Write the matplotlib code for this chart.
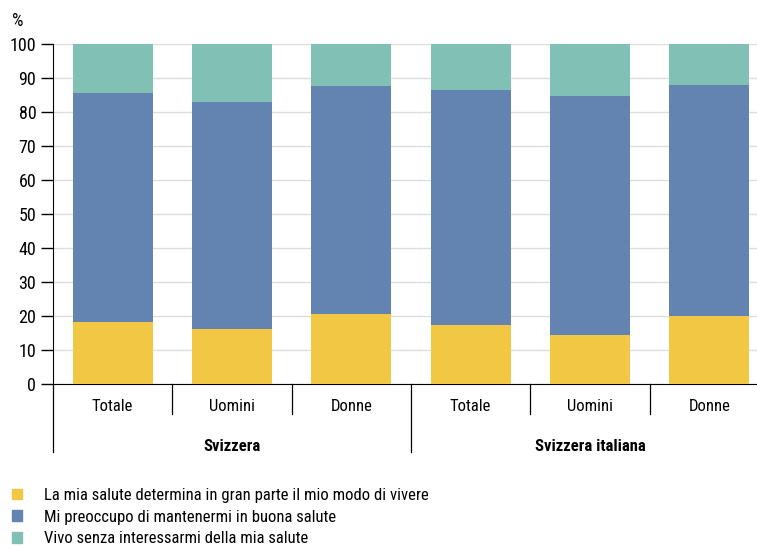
import matplotlib
matplotlib.use('Agg')
import matplotlib.pyplot as plt
import numpy as np
from matplotlib.patches import Patch

plt.rcParams['font.family'] = ['Roboto Condensed', 'DejaVu Sans']

categories = ['Totale', 'Uomini', 'Donne', 'Totale', 'Uomini', 'Donne']
groups = ['Svizzera', 'Svizzera italiana']
legends = ['La mia salute determina in gran parte il mio modo di vivere',
           'Mi preoccupo di mantenermi in buona salute',
           'Vivo senza interessarmi della mia salute']
determina = [18.2, 16.3, 20.5, 17.4, 14.5, 19.9]
preoccupo = [67.2, 66.7, 67.2, 68.9, 70.2, 68.1]
senza = [14.6, 17.0, 12.3, 13.7, 15.3, 12.0]
colors = ['#f2c744', '#6384b0', '#80c0b5']

fig = plt.figure(figsize=(7.57, 5.47), dpi=100)
ax = fig.add_axes([0.070, 0.298, 0.930, 0.622])

x = np.arange(len(categories))
bottoms = np.zeros(len(categories))
for vals, c in zip([determina, preoccupo, senza], colors):
    ax.bar(x, vals, 0.67, bottom=bottoms, color=c, zorder=3)
    bottoms = bottoms + np.array(vals)

ax.set_xlim(-0.5, 5.4)
ax.set_ylim(0, 100)
ax.set_yticks(np.arange(0, 101, 10))
ax.tick_params(axis='y', length=9, width=1, labelsize=13, pad=3)
ax.set_xticks([])
ax.grid(True, axis='y', color='#dddddd', linewidth=1, zorder=0)
for s in ['top', 'right']:
    ax.spines[s].set_visible(False)
ax.spines['left'].set_color('black')
ax.spines['bottom'].set_color('black')

tr = ax.get_xaxis_transform()
for i, c in enumerate(categories):
    ax.text(i, -0.065, c, transform=tr, ha='center', va='center', fontsize=12)
    depth = -0.2 if i % 3 == 0 else -0.088
    ax.plot([i - 0.5, i - 0.5], [0, depth], transform=tr, color='black',
            linewidth=0.9, clip_on=False)
for g, gi in enumerate(groups):
    ax.text(g * 3 + 1, -0.185, gi, transform=tr, ha='center', va='center',
            fontsize=12, fontweight='bold')

fig.text(0.024, 0.962, '%', fontsize=13, ha='center', va='center')

handles = [Patch(color=c) for c in colors]
fig.legend(handles, legends, loc='upper left', bbox_to_anchor=(0.016, 0.108),
           frameon=False, fontsize=12, handlelength=0.62, handleheight=0.62,
           handletextpad=1.3, labelspacing=0.4, borderpad=0, borderaxespad=0)

fig.savefig('out.png', dpi=100)
